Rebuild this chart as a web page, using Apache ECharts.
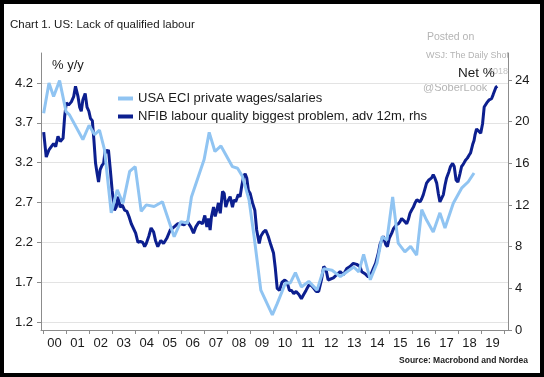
<!DOCTYPE html>
<html>
<head>
<meta charset="utf-8">
<title>Chart 1. US: Lack of qualified labour</title>
<script src="https://cdn.jsdelivr.net/npm/echarts@6/dist/echarts.min.js"></script>
<style>
  html, body { margin: 0; padding: 0; background: #fff; }
  #chart { width: 544px; height: 377px; }
</style>
</head>
<body>
<div id="chart"></div>
<script>
// x axis labels, one per year
const yearLabels = ['00', '01', '02', '03', '04', '05', '06', '07', '08', '09',
  '10', '11', '12', '13', '14', '15', '16', '17', '18', '19']

// USA ECI private wages/salaries, % y/y (lhs)
const eciDates = [2000.03, 2000.26, 2000.46, 2000.72, 2001.0, 2001.15, 2001.73, 2002.0, 2002.24, 2002.45,
  2002.67, 2002.96, 2003.22, 2003.47, 2003.76, 2004.0, 2004.26, 2004.48, 2004.82, 2005.18,
  2005.69, 2005.98, 2006.27, 2006.44, 2006.99, 2007.21, 2007.46, 2007.72, 2008.22, 2008.44,
  2008.65, 2008.94, 2009.16, 2009.45, 2009.95, 2010.16, 2010.52, 2010.73, 2010.95, 2011.21,
  2011.53, 2011.89, 2012.18, 2012.54, 2012.9, 2013.19, 2013.48, 2013.7, 2013.91, 2014.2,
  2014.49, 2014.71, 2014.92, 2015.17, 2015.41, 2015.7, 2015.95, 2016.21, 2016.43, 2016.64,
  2016.93, 2017.22, 2017.44, 2017.8, 2018.16, 2018.45, 2018.7]
const eciValues = [3.82, 4.20, 4.03, 4.23, 3.84, 3.80, 3.49, 3.67, 3.55, 3.61,
  3.36, 2.57, 2.86, 2.69, 3.09, 3.15, 2.59, 2.67, 2.65, 2.71,
  2.27, 2.46, 2.44, 2.77, 3.24, 3.58, 3.34, 3.41, 3.15, 3.13,
  3.03, 2.73, 2.27, 1.60, 1.29, 1.43, 1.69, 1.69, 1.82, 1.64,
  1.71, 1.60, 1.87, 1.85, 1.77, 1.83, 1.89, 1.83, 2.05, 1.73,
  1.94, 2.27, 2.23, 2.77, 2.19, 2.08, 2.15, 2.04, 2.61, 2.48,
  2.33, 2.57, 2.38, 2.69, 2.88, 2.96, 3.07]

// NFIB labour quality biggest problem, adv 12m, net % (rhs)
const nfibDates = [2000.03, 2000.14, 2000.26, 2000.36, 2000.46, 2000.55, 2000.65, 2000.75, 2000.87, 2000.94,
  2001.01, 2001.11, 2001.23, 2001.33, 2001.41, 2001.52, 2001.59, 2001.66, 2001.73, 2001.83,
  2001.91, 2001.99, 2002.06, 2002.14, 2002.21, 2002.28, 2002.35, 2002.41, 2002.48, 2002.56,
  2002.63, 2002.70, 2002.77, 2002.84, 2002.92, 2003.00, 2003.10, 2003.18, 2003.25, 2003.35,
  2003.44, 2003.54, 2003.64, 2003.73, 2003.83, 2003.90, 2004.02, 2004.12, 2004.22, 2004.33,
  2004.41, 2004.48, 2004.59, 2004.69, 2004.80, 2004.88, 2004.98, 2005.11, 2005.23, 2005.37,
  2005.52, 2005.69, 2005.84, 2005.98, 2006.12, 2006.27, 2006.41, 2006.53, 2006.63, 2006.77,
  2006.92, 2007.02, 2007.11, 2007.18, 2007.25, 2007.31, 2007.40, 2007.47, 2007.54, 2007.61,
  2007.69, 2007.79, 2007.86, 2007.93, 2008.00, 2008.12, 2008.22, 2008.29, 2008.36, 2008.47,
  2008.55, 2008.62, 2008.70, 2008.77, 2008.84, 2008.91, 2008.99, 2009.09, 2009.19, 2009.27,
  2009.38, 2009.45, 2009.56, 2009.66, 2009.77, 2009.88, 2010.00, 2010.08, 2010.16, 2010.26,
  2010.37, 2010.49, 2010.59, 2010.69, 2010.78, 2010.88, 2010.98, 2011.10, 2011.21, 2011.31,
  2011.41, 2011.53, 2011.64, 2011.75, 2011.85, 2011.96, 2012.08, 2012.18, 2012.28, 2012.37,
  2012.45, 2012.60, 2012.74, 2012.89, 2013.03, 2013.18, 2013.32, 2013.46, 2013.61, 2013.75,
  2013.83, 2013.97, 2014.11, 2014.22, 2014.33, 2014.43, 2014.55, 2014.62, 2014.69, 2014.76,
  2014.87, 2014.94, 2015.02, 2015.13, 2015.20, 2015.27, 2015.33, 2015.42, 2015.49, 2015.56,
  2015.63, 2015.70, 2015.78, 2015.85, 2015.92, 2015.99, 2016.07, 2016.14, 2016.22, 2016.28,
  2016.36, 2016.43, 2016.50, 2016.64, 2016.74, 2016.86, 2016.93, 2017.00, 2017.08, 2017.15,
  2017.22, 2017.29, 2017.37, 2017.44, 2017.51, 2017.61, 2017.68, 2017.77, 2017.84, 2017.92,
  2018.00, 2018.09, 2018.16, 2018.23, 2018.33, 2018.41, 2018.49, 2018.55, 2018.64, 2018.70,
  2018.74, 2018.81, 2018.88, 2018.99, 2019.07, 2019.14, 2019.25, 2019.36, 2019.46, 2019.53,
  2019.65, 2019.71]
const nfibValues = [19.0, 16.6, 17.3, 17.6, 17.9, 17.6, 18.6, 18.1, 18.4, 20.5,
  21.8, 21.6, 21.9, 22.4, 23.4, 22.4, 21.4, 21.0, 22.1, 22.7,
  21.4, 21.0, 20.3, 20.1, 18.2, 16.0, 15.0, 14.2, 15.4, 15.8,
  16.0, 17.3, 17.0, 17.3, 15.4, 13.4, 11.5, 11.8, 12.8, 11.8,
  12.0, 11.5, 11.4, 10.9, 10.2, 10.1, 9.3, 8.4, 8.5, 8.4,
  8.0, 8.3, 9.0, 9.8, 9.4, 8.6, 8.0, 8.6, 8.3, 8.8,
  9.6, 9.9, 10.2, 10.2, 10.1, 10.4, 9.9, 9.3, 9.9, 10.4,
  10.2, 11.0, 9.9, 10.7, 9.6, 10.9, 11.8, 10.9, 11.5, 12.2,
  11.2, 13.3, 13.1, 11.8, 12.3, 12.8, 11.8, 12.5, 12.3, 13.0,
  12.8, 13.8, 14.7, 15.0, 14.6, 13.4, 13.1, 12.2, 11.5, 9.6,
  8.3, 9.0, 9.4, 9.6, 9.0, 8.2, 7.4, 5.9, 4.0, 3.8,
  4.6, 4.8, 4.6, 3.8, 3.8, 3.5, 3.7, 3.4, 3.0, 3.4,
  3.8, 4.3, 4.3, 4.0, 3.7, 3.7, 4.8, 6.1, 5.8, 4.8,
  4.8, 5.0, 5.3, 5.6, 5.3, 5.9, 6.1, 6.4, 6.3, 6.1,
  5.6, 5.4, 5.1, 5.3, 5.9, 6.4, 7.4, 8.2, 8.6, 9.0,
  8.2, 8.0, 8.8, 9.3, 9.7, 9.8, 10.1, 10.2, 10.4, 10.7,
  10.6, 10.4, 10.2, 10.6, 11.2, 11.5, 11.8, 12.2, 12.5, 12.6,
  12.3, 12.6, 13.0, 14.1, 14.4, 14.6, 14.9, 14.6, 14.1, 13.1,
  12.3, 12.2, 13.0, 13.9, 14.6, 15.2, 15.7, 16.0, 15.7, 14.4,
  14.2, 15.0, 15.7, 15.9, 16.3, 16.5, 16.8, 17.0, 17.8, 18.2,
  18.7, 19.3, 19.2, 18.9, 19.8, 21.4, 21.8, 22.1, 22.2, 22.6,
  23.3, 23.4]

const font = 'Liberation Sans, Arial, sans-serif'
const axisGrey = '#8c8c8c'
const textColor = '#1a1a1a'

// plot frame: 2000 sits at x=43, 2020 at x=504, axis lines at 41 and 508
const xMin = 2000 - 2 / 23.05
const xMax = 2020 + 4 / 23.05

const eciData = eciDates.map((d, i) => [d, eciValues[i]])
const nfibData = nfibDates.map((d, i) => [d, nfibValues[i]])

const hiddenX = (gridIndex) => ({
  type: 'value', gridIndex, min: xMin, max: xMax, show: false
})

const option = {
  animation: false,
  backgroundColor: '#fff',
  textStyle: { fontFamily: font },
  title: {
    text: 'Chart 1. US: Lack of qualified labour',
    left: 5,
    top: 14,
    textStyle: { fontSize: 11.5, fontWeight: 'normal', color: textColor, fontFamily: font }
  },
  legend: {
    orient: 'vertical',
    left: 113,
    top: 87,
    itemGap: 5,
    itemWidth: 15,
    itemHeight: 4,
    icon: 'rect',
    textStyle: { fontSize: 13, color: textColor, fontFamily: font },
    data: ['USA ECI private wages/salaries', 'NFIB labour quality biggest problem, adv 12m, rhs']
  },
  grid: [
    // 0: frame with the axis lines
    { left: 41, right: 36, top: 53, bottom: 47 },
    // 1: lhs scale, 1.2 at y=322, 4.2 at y=83
    { left: 41, right: 36, top: 83, bottom: 55 },
    // 2: rhs scale, 0 at y=330, 24 at y=80
    { left: 41, right: 36, top: 80, bottom: 47 },
    // 3: year labels between ticks
    { left: 43, right: 40, top: 53, bottom: 47 }
  ],
  xAxis: [
    {
      type: 'value', gridIndex: 0, min: xMin, max: xMax,
      axisLine: { show: true, lineStyle: { color: axisGrey } },
      axisTick: { show: false }, axisLabel: { show: false }, splitLine: { show: false }
    },
    hiddenX(1),
    hiddenX(2),
    {
      type: 'category', gridIndex: 3, data: yearLabels, boundaryGap: true,
      axisLine: { show: false },
      axisTick: { show: true, length: 4, lineStyle: { color: axisGrey } },
      axisLabel: { color: textColor, fontSize: 13, margin: 7, interval: 0 },
      splitLine: { show: false }
    }
  ],
  yAxis: [
    {
      type: 'value', gridIndex: 0, position: 'left', min: 0, max: 1,
      axisLine: { show: true, lineStyle: { color: axisGrey } },
      axisTick: { show: false }, axisLabel: { show: false }, splitLine: { show: false }
    },
    {
      type: 'value', gridIndex: 0, position: 'right', min: 0, max: 1,
      axisLine: { show: true, lineStyle: { color: axisGrey } },
      axisTick: { show: false }, axisLabel: { show: false }, splitLine: { show: false }
    },
    {
      type: 'value', gridIndex: 1, position: 'left', min: 1.2, max: 4.2, interval: 0.5,
      axisLine: { show: false },
      axisTick: { show: true, length: 4, lineStyle: { color: axisGrey } },
      axisLabel: { color: textColor, fontSize: 13, margin: 8, formatter: (v) => v.toFixed(1) },
      splitLine: { show: true, lineStyle: { color: '#e3e3e3', width: 1 } }
    },
    {
      type: 'value', gridIndex: 2, position: 'right', min: 0, max: 24, interval: 4,
      axisLine: { show: false },
      axisTick: { show: true, length: 4, lineStyle: { color: axisGrey } },
      axisLabel: { color: textColor, fontSize: 13, margin: 7 },
      splitLine: { show: false }
    },
    { type: 'value', gridIndex: 3, min: 0, max: 1, show: false }
  ],
  series: [
    {
      name: 'NFIB labour quality biggest problem, adv 12m, rhs',
      type: 'line',
      xAxisIndex: 2,
      yAxisIndex: 3,
      data: nfibData,
      showSymbol: false,
      clip: false,
      z: 2,
      itemStyle: { color: '#0c1f8f' },
      lineStyle: { color: '#0c1f8f', width: 3 }
    },
    {
      name: 'USA ECI private wages/salaries',
      type: 'line',
      xAxisIndex: 1,
      yAxisIndex: 2,
      data: eciData,
      showSymbol: false,
      clip: false,
      z: 3,
      itemStyle: { color: '#90c4f2' },
      lineStyle: { color: '#90c4f2', width: 3 }
    }
  ],
  graphic: [
    // watermark
    { type: 'text', left: 427, top: 32, silent: true,
      style: { text: 'Posted on', fill: '#b4b4b4', font: '10.5px ' + font } },
    { type: 'text', left: 426, top: 51, silent: true,
      style: { text: 'WSJ: The Daily Shot', fill: '#b4b4b4', font: '9px ' + font } },
    { type: 'text', right: 36, top: 67, silent: true,
      style: { text: '2018', fill: '#c4c4c4', font: '9px ' + font } },
    { type: 'text', left: 423, top: 82, silent: true,
      style: { text: '@SoberLook', fill: '#b4b4b4', font: '11px ' + font } },
    // axis units
    { type: 'text', left: 52, top: 59, z: 10,
      style: { text: '% y/y', fill: textColor, font: '13px ' + font } },
    { type: 'text', left: 458, top: 66, z: 10,
      style: { text: 'Net %', fill: textColor, font: '13.5px ' + font } },
    // source
    { type: 'text', right: 16, top: 356,
      style: { text: 'Source: Macrobond and Nordea', fill: '#222', font: 'bold 8.5px ' + font } },
    // black frame
    { type: 'rect', z: 100, silent: true,
      shape: { x: 0, y: 0, width: 544, height: 377 },
      style: { fill: 'none', stroke: '#000', lineWidth: 8 } }
  ]
}

const myChart = echarts.init(document.getElementById('chart'))
myChart.setOption(option)
</script>
</body>
</html>
